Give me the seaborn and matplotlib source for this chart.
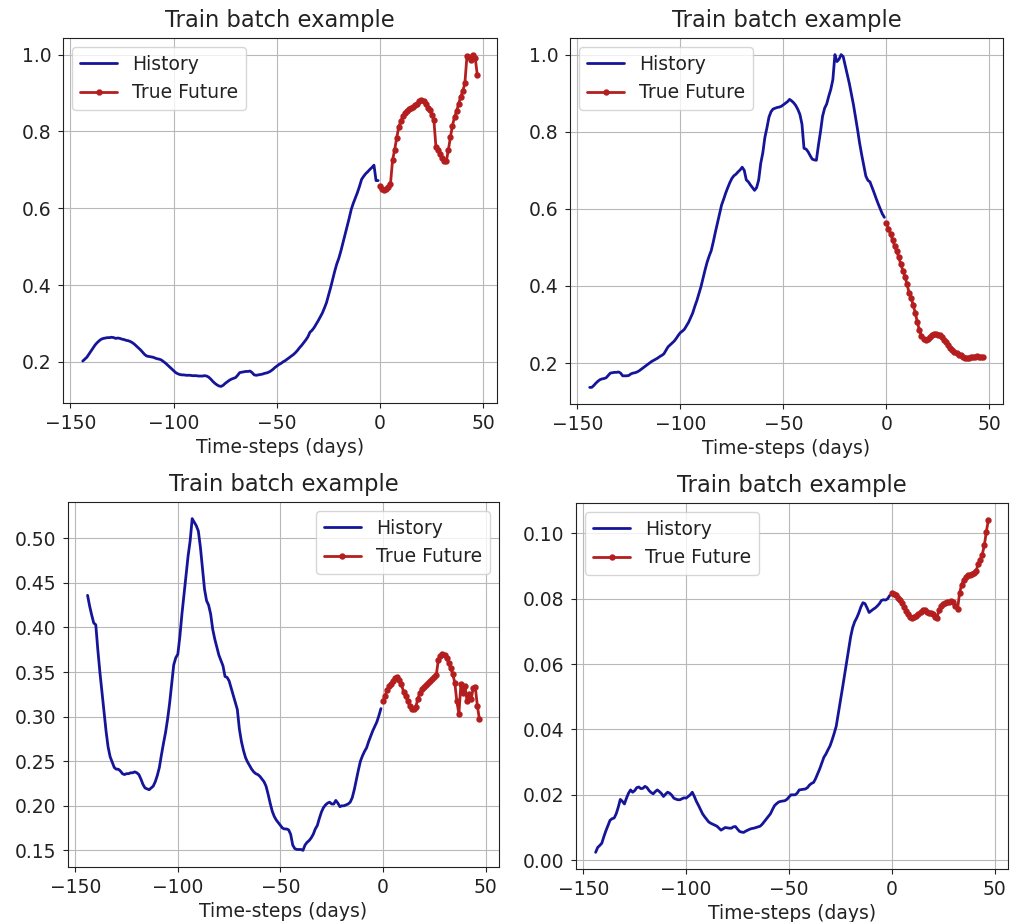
import numpy as np
import pandas as pd
import matplotlib
matplotlib.use("Agg")
import matplotlib.pyplot as plt
import seaborn as sns

# ---------------- data ----------------
history_steps = list(range(-144, 0))
future_steps = list(range(0, 48))

p1_history = [
    0.202, 0.207, 0.212, 0.220, 0.228, 0.236, 0.244, 0.250, 0.255, 0.259,
    0.261, 0.262, 0.263, 0.263, 0.264, 0.263, 0.261, 0.262, 0.261, 0.259,
    0.258, 0.256, 0.255, 0.253, 0.250, 0.246, 0.241, 0.236, 0.231, 0.225,
    0.219, 0.215, 0.214, 0.213, 0.212, 0.210, 0.208, 0.207, 0.205, 0.201,
    0.197, 0.192, 0.187, 0.182, 0.177, 0.172, 0.169, 0.167, 0.166, 0.166,
    0.165, 0.165, 0.165, 0.164, 0.164, 0.164, 0.163, 0.163, 0.163, 0.164,
    0.163, 0.160, 0.155, 0.149, 0.144, 0.140, 0.137, 0.136, 0.139, 0.144,
    0.148, 0.152, 0.155, 0.157, 0.159, 0.165, 0.172, 0.173, 0.174, 0.175,
    0.175, 0.176, 0.172, 0.166, 0.165, 0.166, 0.167, 0.168, 0.170, 0.171,
    0.173, 0.176, 0.180, 0.185, 0.189, 0.193, 0.196, 0.200, 0.203, 0.207,
    0.211, 0.215, 0.219, 0.224, 0.230, 0.237, 0.243, 0.250, 0.257, 0.265,
    0.277, 0.282, 0.289, 0.298, 0.307, 0.317, 0.327, 0.340, 0.354, 0.373,
    0.393, 0.415, 0.436, 0.455, 0.470, 0.489, 0.510, 0.532, 0.552, 0.574,
    0.597, 0.613, 0.627, 0.641, 0.657, 0.675, 0.683, 0.690, 0.695, 0.701,
    0.706, 0.712, 0.672, 0.672,
]
p1_future = [
    0.658, 0.650, 0.648, 0.650, 0.655, 0.664, 0.725, 0.752, 0.783, 0.812,
    0.826, 0.840, 0.848, 0.853, 0.858, 0.862, 0.864, 0.868, 0.872, 0.878,
    0.881, 0.878, 0.872, 0.862, 0.855, 0.843, 0.829, 0.760, 0.752, 0.742,
    0.730, 0.724, 0.722, 0.751, 0.785, 0.815, 0.838, 0.852, 0.872, 0.890,
    0.905, 0.925, 0.995, 0.993, 0.985, 1.000, 0.992, 0.948,
]

p2_history = [
    0.137, 0.137, 0.142, 0.148, 0.153, 0.157, 0.159, 0.160, 0.162, 0.168,
    0.174, 0.175, 0.176, 0.176, 0.177, 0.174, 0.167, 0.167, 0.167, 0.168,
    0.172, 0.174, 0.175, 0.177, 0.180, 0.184, 0.188, 0.192, 0.196, 0.200,
    0.204, 0.207, 0.210, 0.213, 0.217, 0.220, 0.224, 0.233, 0.242, 0.247,
    0.252, 0.257, 0.264, 0.272, 0.279, 0.283, 0.288, 0.297, 0.306, 0.318,
    0.330, 0.347, 0.362, 0.380, 0.398, 0.420, 0.442, 0.462, 0.478, 0.492,
    0.515, 0.540, 0.563, 0.585, 0.610, 0.625, 0.641, 0.655, 0.668, 0.679,
    0.686, 0.690, 0.696, 0.701, 0.708, 0.700, 0.675, 0.670, 0.662, 0.655,
    0.648, 0.655, 0.675, 0.718, 0.745, 0.785, 0.810, 0.838, 0.852, 0.859,
    0.861, 0.863, 0.864, 0.866, 0.870, 0.874, 0.878, 0.884, 0.880, 0.875,
    0.868, 0.858, 0.845, 0.820, 0.757, 0.755, 0.748, 0.738, 0.729, 0.727,
    0.726, 0.765, 0.800, 0.840, 0.861, 0.872, 0.892, 0.910, 0.935, 1.000,
    0.982, 0.988, 1.000, 0.995, 0.972, 0.950, 0.925, 0.898, 0.870, 0.838,
    0.805, 0.770, 0.740, 0.712, 0.685, 0.674, 0.670, 0.656, 0.642, 0.627,
    0.613, 0.600, 0.587, 0.578,
]
p2_future = [
    0.564, 0.548, 0.535, 0.519, 0.503, 0.490, 0.474, 0.456, 0.440, 0.424,
    0.405, 0.382, 0.369, 0.350, 0.330, 0.306, 0.285, 0.270, 0.263, 0.260,
    0.262, 0.268, 0.274, 0.276, 0.275, 0.273, 0.272, 0.267, 0.260, 0.254,
    0.246, 0.240, 0.234, 0.228, 0.225, 0.222, 0.220, 0.216, 0.213, 0.212,
    0.214, 0.217, 0.217, 0.217, 0.218, 0.217, 0.217, 0.216,
]

p3_history = [
    0.436, 0.424, 0.414, 0.405, 0.403, 0.375, 0.350, 0.328, 0.305, 0.284,
    0.266, 0.255, 0.249, 0.243, 0.241, 0.241, 0.239, 0.236, 0.235, 0.236,
    0.236, 0.237, 0.237, 0.238, 0.237, 0.235, 0.230, 0.224, 0.220, 0.219,
    0.218, 0.220, 0.222, 0.227, 0.234, 0.243, 0.257, 0.270, 0.282, 0.297,
    0.315, 0.336, 0.358, 0.366, 0.370, 0.390, 0.415, 0.437, 0.460, 0.480,
    0.497, 0.522, 0.518, 0.514, 0.508, 0.490, 0.467, 0.443, 0.430, 0.425,
    0.415, 0.398, 0.387, 0.378, 0.369, 0.363, 0.357, 0.345, 0.344, 0.340,
    0.332, 0.324, 0.316, 0.308, 0.286, 0.272, 0.262, 0.254, 0.249, 0.245,
    0.241, 0.238, 0.236, 0.235, 0.233, 0.230, 0.227, 0.222, 0.213, 0.203,
    0.194, 0.188, 0.184, 0.181, 0.178, 0.175, 0.174, 0.174, 0.173, 0.168,
    0.156, 0.152, 0.151, 0.151, 0.151, 0.150, 0.156, 0.159, 0.161, 0.164,
    0.168, 0.174, 0.178, 0.186, 0.193, 0.198, 0.201, 0.203, 0.204, 0.202,
    0.202, 0.206, 0.203, 0.199, 0.200, 0.200, 0.201, 0.202, 0.204, 0.209,
    0.218, 0.229, 0.240, 0.250, 0.256, 0.261, 0.265, 0.272, 0.278, 0.284,
    0.289, 0.294, 0.301, 0.309,
]
p3_future = [
    0.318, 0.323, 0.330, 0.334, 0.337, 0.340, 0.343, 0.344, 0.341, 0.336,
    0.328, 0.323, 0.318, 0.312, 0.309, 0.309, 0.311, 0.320, 0.327, 0.331,
    0.333, 0.335, 0.338, 0.340, 0.342, 0.344, 0.347, 0.364, 0.368, 0.370,
    0.369, 0.366, 0.360, 0.354, 0.348, 0.338, 0.317, 0.303, 0.337, 0.326,
    0.334, 0.317, 0.325, 0.320, 0.332, 0.333, 0.312, 0.297,
]

p4_history = [
    0.0024, 0.0039, 0.0045, 0.0052, 0.0072, 0.0090, 0.0106, 0.0122, 0.0127, 0.0129,
    0.0142, 0.0162, 0.0186, 0.0180, 0.0172, 0.0190, 0.0205, 0.0215, 0.0208, 0.0213,
    0.0222, 0.0224, 0.0219, 0.0220, 0.0226, 0.0222, 0.0213, 0.0207, 0.0203, 0.0210,
    0.0215, 0.0210, 0.0204, 0.0195, 0.0202, 0.0208, 0.0205, 0.0199, 0.0190, 0.0187,
    0.0185, 0.0185, 0.0188, 0.0191, 0.0190, 0.0195, 0.0200, 0.0208, 0.0195, 0.0180,
    0.0168, 0.0155, 0.0142, 0.0133, 0.0125, 0.0117, 0.0113, 0.0110, 0.0107, 0.0104,
    0.0098, 0.0092, 0.0096, 0.0100, 0.0099, 0.0098, 0.0098, 0.0102, 0.0103, 0.0095,
    0.0088, 0.0086, 0.0085, 0.0089, 0.0092, 0.0095, 0.0097, 0.0098, 0.0100, 0.0102,
    0.0104, 0.0110, 0.0118, 0.0126, 0.0134, 0.0142, 0.0155, 0.0167, 0.0173, 0.0178,
    0.0180, 0.0181, 0.0182, 0.0186, 0.0193, 0.0200, 0.0200, 0.0200, 0.0205, 0.0215,
    0.0216, 0.0217, 0.0218, 0.0222, 0.0230, 0.0235, 0.0238, 0.0250, 0.0265, 0.0280,
    0.0298, 0.0315, 0.0325, 0.0338, 0.0350, 0.0368, 0.0388, 0.0410, 0.0448, 0.0485,
    0.0525, 0.0565, 0.0605, 0.0645, 0.0683, 0.0712, 0.0730, 0.0742, 0.0757, 0.0775,
    0.0788, 0.0785, 0.0772, 0.0758, 0.0763, 0.0768, 0.0772, 0.0778, 0.0785, 0.0795,
    0.0797, 0.0796, 0.0800, 0.0810,
]
p4_future = [
    0.0818, 0.0815, 0.0810, 0.0803, 0.0795, 0.0786, 0.0775, 0.0762, 0.0752, 0.0745,
    0.0742, 0.0745, 0.0747, 0.0752, 0.0758, 0.0766, 0.0765, 0.0760, 0.0757, 0.0755,
    0.0752, 0.0745, 0.0742, 0.0765, 0.0778, 0.0784, 0.0787, 0.0789, 0.0790, 0.0792,
    0.0790, 0.0777, 0.0768, 0.0818, 0.0843, 0.0858, 0.0866, 0.0872, 0.0874, 0.0876,
    0.0880, 0.0885, 0.0905, 0.0920, 0.0935, 0.0963, 0.1005, 0.1042,
]

x_ticks = [-150, -100, -50, 0, 50]
x_tick_labels = ["\u2212150", "\u2212100", "\u221250", "0", "50"]
p1_yticks = [0.2, 0.4, 0.6, 0.8, 1.0]
p1_ylabels = ["0.2", "0.4", "0.6", "0.8", "1.0"]
p2_yticks = [0.2, 0.4, 0.6, 0.8, 1.0]
p2_ylabels = ["0.2", "0.4", "0.6", "0.8", "1.0"]
p3_yticks = [0.15, 0.20, 0.25, 0.30, 0.35, 0.40, 0.45, 0.50]
p3_ylabels = ["0.15", "0.20", "0.25", "0.30", "0.35", "0.40", "0.45", "0.50"]
p4_yticks = [0.00, 0.02, 0.04, 0.06, 0.08, 0.10]
p4_ylabels = ["0.00", "0.02", "0.04", "0.06", "0.08", "0.10"]

title_text = "Train batch example"
xlabel_text = "Time-steps (days)"
history_label = "History"
future_label = "True Future"

# ---------------- style ----------------
sns.set_style("ticks", rc={
    "axes.grid": True,
    "grid.color": "#b8b8b8",
    "grid.linewidth": 1.07,
    "axes.edgecolor": "#222222",
    "axes.linewidth": 1.07,
    "xtick.major.size": 4.7,
    "ytick.major.size": 4.7,
    "xtick.major.width": 1.07,
    "ytick.major.width": 1.07,
    "xtick.direction": "out",
    "ytick.direction": "out",
    "xtick.color": "#222222",
    "ytick.color": "#222222",
    "text.color": "#222222",
    "axes.labelcolor": "#222222",
})
plt.rcParams["font.family"] = ["DejaVu Sans"]
plt.rcParams["xtick.major.pad"] = 4.7
plt.rcParams["ytick.major.pad"] = 4.7
plt.rcParams["axes.unicode_minus"] = True

BLUE = "#15159a"
RED = "#b41e1e"
FS = 13.5

fig = plt.figure(figsize=(10.13, 9.22), dpi=100)

panels = [
    (p1_history, p1_future, p1_yticks, p1_ylabels, "upper left", [0.0622, 0.5629, 0.4284, 0.3959]),
    (p2_history, p2_future, p2_yticks, p2_ylabels, "upper left", [0.5627, 0.5618, 0.4274, 0.3970]),
    (p3_history, p3_future, p3_yticks, p3_ylabels, "upper right", [0.0671, 0.0597, 0.4255, 0.3958]),
    (p4_history, p4_future, p4_yticks, p4_ylabels, "upper left", [0.5686, 0.0575, 0.4265, 0.3969]),
]

for hist, fut, yt, yl, loc, rect in panels:
    ax = fig.add_axes(rect)
    ax.set_facecolor("white")
    sns.lineplot(x=history_steps, y=hist, ax=ax, color=BLUE, linewidth=2.0,
                 label=history_label, estimator=None, sort=False)
    sns.lineplot(x=future_steps, y=fut, ax=ax, color=RED, linewidth=2.0,
                 marker=".", markersize=6.5, markeredgecolor=RED,
                 markerfacecolor=RED, markeredgewidth=1.3,
                 label=future_label, estimator=None, sort=False)
    ax.set_xticks(x_ticks)
    ax.set_xticklabels(x_tick_labels, fontsize=FS)
    ax.set_yticks(yt)
    ax.set_yticklabels(yl, fontsize=FS)
    allv = list(hist) + list(fut)
    ax.set_xlim(-144 - 0.05 * 191, 47 + 0.05 * 191)
    lo, hi = min(allv), max(allv)
    pad = 0.05 * (hi - lo)
    ax.set_ylim(lo - pad, hi + pad)
    ax.set_title(title_text, fontsize=16.3, pad=8)
    ax.set_xlabel(xlabel_text, fontsize=FS, labelpad=3)
    ax.set_ylabel("")
    for s in ax.spines.values():
        s.set_visible(True)
        s.set_color("#222222")
    leg = ax.legend(loc=loc, fontsize=FS, frameon=True, framealpha=0.8,
                    edgecolor="#cccccc", fancybox=True, borderpad=0.4,
                    handlelength=2.0, labelspacing=0.5)

fig.savefig("out.png", dpi=100)
